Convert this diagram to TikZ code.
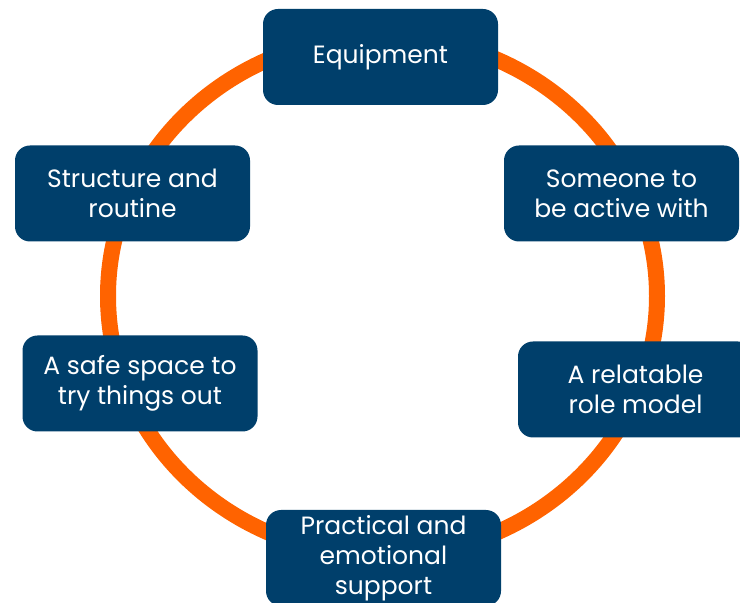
\documentclass[tikz,border=0pt]{standalone}
\usepackage{fontspec}
\setmainfont{Poppins}
\definecolor{navy}{RGB}{0,63,107}
\definecolor{ring}{RGB}{255,99,0}
\begin{document}
\begin{tikzpicture}[x=1pt,y=1pt,
  card/.style={fill=navy, draw=none, rounded corners=15pt, minimum width=235pt, minimum height=96pt,
    inner sep=0pt, text=white, align=center, font=\fontsize{25}{30}\selectfont}]
\useasboundingbox (0,0) rectangle (740,603);
\clip (0,0) rectangle (740,603);
\draw[ring, line width=16pt] (382.5,307) ellipse [x radius=274.5, y radius=260];
\node[card] (eq) at (380.5,546) {Equipment};
\node[card] (so) at (621.5,409.5) {Someone to\\be active with};
\node[card] (re) at (635.5,213.5) {A relatable\\role model};
\node[card] (pr) at (383.5,45) {Practical and\\emotional\\support};
\node[card] (sa) at (140,219.5) {A safe space to\\try things out};
\node[card] (st) at (132.5,409.5) {Structure and\\routine};
\end{tikzpicture}
\end{document}
